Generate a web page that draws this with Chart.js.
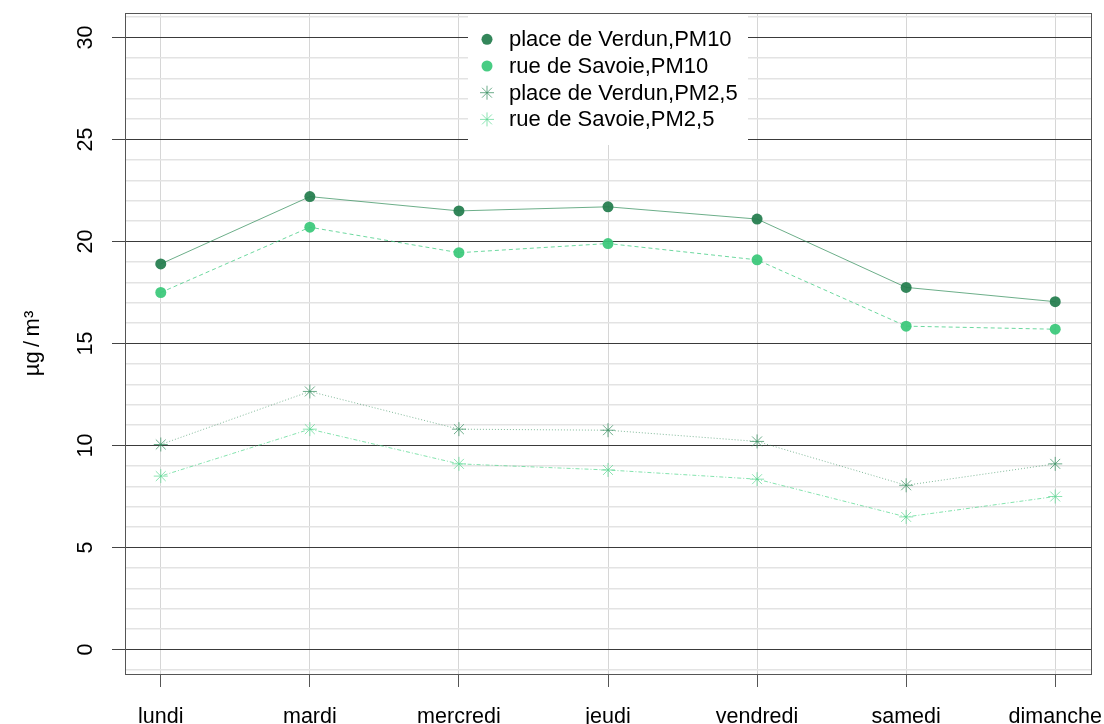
<!DOCTYPE html>
<html><head><meta charset="utf-8">
<script src="https://cdn.jsdelivr.net/npm/chart.js@4/dist/chart.umd.min.js"></script>
<style>html,body{margin:0;padding:0;background:#fff;overflow:hidden}#wrap{position:relative;width:1104px;height:724px}</style>
</head><body><div id="wrap"><canvas id="c" width="1104" height="724"></canvas></div>
<script>
// ---- data ----
const categories = ['lundi','mardi','mercredi','jeudi','vendredi','samedi','dimanche'];
const verdunPM10 = [18.9, 22.2, 21.5, 21.7, 21.1, 17.75, 17.05];
const savoiePM10 = [17.5, 20.7, 19.45, 19.9, 19.1, 15.85, 15.7];
const verdunPM25 = [10.05, 12.65, 10.8, 10.75, 10.2, 8.05, 9.1];
const savoiePM25 = [8.5, 10.8, 9.1, 8.8, 8.35, 6.5, 7.5];
const seriesNames = ['place de Verdun,PM10','rue de Savoie,PM10','place de Verdun,PM2,5','rue de Savoie,PM2,5'];
const yTicks = [0, 5, 10, 15, 20, 25, 30];
const yTitle = 'µg\u2009/\u2009m³';

// ---- styling ----
const FONT = '"Liberation Sans", Arial, Helvetica, sans-serif';
const TICK_FONT = 21.5;
const LEG_FONT = 22;

function toXY(arr){ return arr.map((v,i)=>({x:i+1, y:v})); }

const datasets = [
  {label: seriesNames[0], data: toXY(verdunPM10),
   borderColor:'rgba(46,139,87,0.7)', borderWidth:1, borderDash:[],
   pointStyle:'circle', pointRadius:5.5, pointBackgroundColor:'rgba(36,125,78,0.93)', pointBorderColor:'rgba(0,0,0,0)', pointBorderWidth:0},
  {label: seriesNames[1], data: toXY(savoiePM10),
   borderColor:'rgba(60,203,127,0.75)', borderWidth:1, borderDash:[4,3],
   pointStyle:'circle', pointRadius:5.5, pointBackgroundColor:'rgba(58,200,122,0.93)', pointBorderColor:'rgba(0,0,0,0)', pointBorderWidth:0},
  {label: seriesNames[2], data: toXY(verdunPM25),
   borderColor:'rgba(46,139,87,0.6)', borderWidth:1, borderDash:[1,2],
   pointStyle:'star', pointRadius:7, pointBackgroundColor:'rgba(0,0,0,0)', pointBorderColor:'rgba(60,145,100,0.75)', pointBorderWidth:1},
  {label: seriesNames[3], data: toXY(savoiePM25),
   borderColor:'rgba(80,215,140,0.7)', borderWidth:1, borderDash:[1,2,4,2],
   pointStyle:'star', pointRadius:7, pointBackgroundColor:'rgba(0,0,0,0)', pointBorderColor:'rgba(90,215,145,0.7)', pointBorderWidth:1}
];

function drawMarker(ctx, ds, x, y){
  ctx.save();
  if (ds.pointStyle === 'circle') {
    ctx.fillStyle = ds.pointBackgroundColor;
    ctx.beginPath(); ctx.arc(x, y, ds.pointRadius, 0, Math.PI*2); ctx.fill();
  } else {
    ctx.strokeStyle = ds.pointBorderColor; ctx.lineWidth = ds.pointBorderWidth;
    const r = ds.pointRadius, d = r*Math.SQRT1_2;
    ctx.beginPath();
    ctx.moveTo(x-r,y); ctx.lineTo(x+r,y);
    ctx.moveTo(x,y-r); ctx.lineTo(x,y+r);
    ctx.moveTo(x-d,y-d); ctx.lineTo(x+d,y+d);
    ctx.moveTo(x-d,y+d); ctx.lineTo(x+d,y-d);
    ctx.stroke();
  }
  ctx.restore();
}

const innerLegend = {
  id:'innerLegend',
  afterDatasetsDraw(chart){
    const ctx = chart.ctx, ca = chart.chartArea;
    const w = 280, h = 132;
    const cx = (ca.left + ca.right)/2;
    const x0 = cx - w/2, y0 = ca.top;
    ctx.save();
    ctx.fillStyle = '#fff';
    ctx.fillRect(x0, y0, w, h);
    ctx.font = LEG_FONT + 'px ' + FONT;
    ctx.fillStyle = '#000';
    ctx.textBaseline = 'middle';
    ctx.textAlign = 'left';
    chart.data.datasets.forEach((ds, i) => {
      const yy = y0 + 26.3 + i*26.7;
      drawMarker(ctx, ds, x0 + 19, yy);
      ctx.fillText(ds.label, x0 + 41, yy + 1);
    });
    ctx.restore();
  },
  afterDraw(chart){
    const ctx = chart.ctx, ca = chart.chartArea;
    ctx.save();
    ctx.strokeStyle = '#555';
    ctx.lineWidth = 1;
    ctx.strokeRect(Math.round(ca.left)+0.5, Math.round(ca.top)+0.5, Math.round(ca.right-ca.left), Math.round(ca.bottom-ca.top));
    ctx.restore();
  }
};

new Chart(document.getElementById('c'), {
  type:'line',
  data:{ datasets },
  options:{
    responsive:false, animation:false, events:[],
    layout:{ padding:{ left:0, top:13, right:13, bottom:0 } },
    plugins:{ legend:{display:false}, tooltip:{enabled:false} },
    elements:{ line:{ tension:0, fill:false } },
    scales:{
      x:{
        type:'linear', min:0.76, max:7.24,
        afterBuildTicks: s => { s.ticks = categories.map((c,i)=>({value:i+1})); },
        afterFit: s => { s.height = 50; s.paddingLeft = 0; s.paddingRight = 0; },
        ticks:{ autoSkip:false, maxRotation:0, minRotation:0, padding:17,
          callback: v => categories[Math.round(v)-1],
          font:{ family:FONT, size:TICK_FONT }, color:'#000' },
        grid:{ color:'#d6d6d6', lineWidth:1, tickLength:13, tickColor:'#555', drawOnChartArea:true },
        border:{ display:false }
      },
      y:{
        type:'linear', min:-1.2, max:31.2,
        afterBuildTicks: s => { const t=[]; for(let v=-1; v<=31; v++) t.push({value:v}); s.ticks=t; },
        afterFit: s => { s.width = 125; s.paddingTop = 0; s.paddingBottom = 0; },
        ticks:{ autoSkip:false, minRotation:90, maxRotation:90, crossAlign:'center', padding:14,
          callback: v => yTicks.includes(v) ? String(v) : '',
          font:{ family:FONT, size:TICK_FONT }, color:'#000' },
        grid:{
          color: c => yTicks.includes(c.tick.value) ? '#3a3a3a' : '#e3e3e3',
          lineWidth: c => yTicks.includes(c.tick.value) ? 1 : 1.5,
          tickColor: c => yTicks.includes(c.tick.value) ? '#444' : 'rgba(0,0,0,0)',
          tickLength:13
        },
        border:{ display:false },
        title:{ display:true, text:yTitle, font:{ family:FONT, size:22 }, color:'#000', padding:{top:20, bottom:0} }
      }
    }
  },
  plugins:[innerLegend]
});
</script></body></html>
